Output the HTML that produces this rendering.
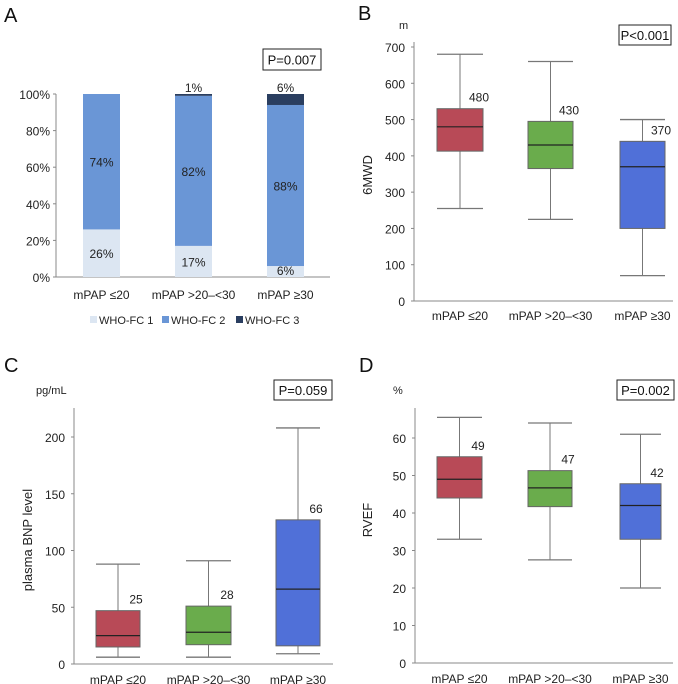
<!DOCTYPE html>
<html><head><meta charset="utf-8">
<style>
html,body{margin:0;padding:0;background:#fff;}
svg{display:block;font-family:"Liberation Sans",Arial,sans-serif;}
</style></head>
<body>
<svg id="fig" width="678" height="684" viewBox="0 0 678 684" xmlns="http://www.w3.org/2000/svg"></svg>
<script>
const NS='http://www.w3.org/2000/svg';
const svg=document.getElementById('fig');
function el(tag,attrs,parent,text){const e=document.createElementNS(NS,tag);for(const k in attrs)e.setAttribute(k,attrs[k]);if(text!==undefined)e.textContent=text;(parent||svg).appendChild(e);return e;}

const categories=['mPAP ≤20','mPAP >20–<30','mPAP ≥30'];
// Panel A data (percent)
const fc1=[26,17,6];
const fc2=[74,82,88];
const fc3=[0,1,6];
const aTicks=[0,20,40,60,80,100];
// Panel B (6MWD): [min, q1, median, q3, max]
const bMin=[255,225,70], bQ1=[413,365,200], bMed=[480,430,370], bQ3=[530,495,440], bMax=[680,660,500];
const bTicks=[0,100,200,300,400,500,600,700];
// Panel C (BNP)
const cMin=[6,6,9], cQ1=[15,17,16], cMed=[25,28,66], cQ3=[47,51,127], cMax=[88,91,208];
const cTicks=[0,50,100,150,200];
// Panel D (RVEF)
const dMin=[33,27.5,20], dQ1=[44,41.7,33], dMed=[49,46.7,42], dQ3=[55,51.3,47.8], dMax=[65.5,64,61];
const dTicks=[0,10,20,30,40,50,60];

const boxColors=['#b84a57','#6aac4c','#5070d8'];

function panelLetter(x,y,t){
  const e=el('text',{x:x,y:y,'font-size':20,fill:'#111'},svg,t);
  
  
}
function pBox(x,y,w,h,t,name){
  const g=el('g',{});
  
  
  el('rect',{x:x,y:y,width:w,height:h,fill:'#fff',stroke:'#222','stroke-width':1},g);
  el('text',{x:x+w/2,y:y+h/2+5,'text-anchor':'middle','font-size':13,fill:'#111'},g,t);
}

// ---------- Panel A ----------
panelLetter(4,22,'A');
pBox(263,49,58,21,'P=0.007','p-value-a');
(function(){
  const x0=56,yTop=94,yBot=277;
  const y=v=>yBot-(yTop-yBot)*-v/100;
  const g=el('g',{});
  
  
  el('line',{x1:x0,y1:yTop,x2:x0,y2:yBot,stroke:'#888'},g);
  el('line',{x1:x0,y1:yBot,x2:330,y2:yBot,stroke:'#888'},g);
  aTicks.forEach(t=>{
    const tx=el('text',{x:50,y:y(t)+5,'text-anchor':'end','font-size':12,fill:'#222'},g,t+'%');
    
    
    el('line',{x1:x0-3,y1:y(t),x2:x0,y2:y(t),stroke:'#888'},g);
  });
  const centers=[101.5,193.5,285.5], bw=37;
  categories.forEach((c,i)=>{
    const cx=centers[i];
    let base=0;
    const segs=[[fc1[i],'#dce6f2'],[fc2[i],'#6a96d6'],[fc3[i],'#2a3e60']];
    segs.forEach((s,j)=>{
      if(s[0]<=0){return;}
      const r=el('rect',{x:cx-bw/2,y:y(base+s[0]),width:bw,height:y(base)-y(base+s[0]),fill:s[1]},g);
      
      
      base+=s[0];
    });
    // labels
    const l1=el('text',{x:cx,y:y(fc1[i]/2)+5,'text-anchor':'middle','font-size':12,fill:'#222'},g,fc1[i]+'%');
    if(fc1[i]<10) l1.setAttribute('y',yBot-2);
    
    
    const l2=el('text',{x:cx,y:y(fc1[i]+fc2[i]/2)+5,'text-anchor':'middle','font-size':12,fill:'#222'},g,fc2[i]+'%');
    
    
    if(fc3[i]>0){
      const l3=el('text',{x:cx,y:yTop-2,'text-anchor':'middle','font-size':12,fill:'#222'},g,fc3[i]+'%');
      
      
    }
    const cl=el('text',{x:cx,y:299,'text-anchor':'middle','font-size':12,fill:'#222'},g,c);
    
    
  });
  const leg=[['WHO-FC 1','#dce6f2',90],['WHO-FC 2','#6a96d6',162],['WHO-FC 3','#2a3e60',236]];
  leg.forEach(l=>{
    const lg=el('g',{},g);
    
    
    el('rect',{x:l[2],y:316,width:7,height:7,fill:l[1]},lg);
    el('text',{x:l[2]+9,y:324,'font-size':11,fill:'#222'},lg,l[0]);
  });
})();

function boxPanel(o){
  const g=el('g',{});
  
  
  const y=v=>o.y0-(v-o.vmin)/(o.vmax-o.vmin)*(o.y0-o.yv);
  el('line',{x1:o.x0,y1:o.yTop,x2:o.x0,y2:o.y0,stroke:'#888'},g);
  el('line',{x1:o.x0,y1:o.y0,x2:o.xEnd,y2:o.y0,stroke:'#888'},g);
  o.ticks.forEach(t=>{
    el('line',{x1:o.x0-3,y1:y(t),x2:o.x0,y2:y(t),stroke:'#888'},g);
    const tx=el('text',{x:o.x0-9,y:y(t)+5,'text-anchor':'end','font-size':12,fill:'#222'},g,t);
    
    
  });
  const u=el('text',{x:o.unitX,y:o.unitY,'font-size':11,fill:'#222'},g,o.unit);
  
  
  const yt=el('text',{x:o.ytX,y:o.ytY,'text-anchor':'middle','font-size':13,fill:'#222',transform:'rotate(-90 '+o.ytX+' '+o.ytY+')'},g,o.ytitle);
  
  
  categories.forEach((c,i)=>{
    const l=o.lefts[i], r=o.rights[i], cx=(l+r)/2;
    const bg=el('g',{},g);
    
    
    el('line',{x1:cx,y1:y(o.max[i]),x2:cx,y2:y(o.min[i]),stroke:'#777'},bg);
    el('line',{x1:l,y1:y(o.max[i]),x2:r,y2:y(o.max[i]),stroke:'#777','stroke-width':1.3},bg);
    el('line',{x1:l,y1:y(o.min[i]),x2:r,y2:y(o.min[i]),stroke:'#777','stroke-width':1.3},bg);
    el('rect',{x:l,y:y(o.q3[i]),width:r-l,height:y(o.q1[i])-y(o.q3[i]),fill:boxColors[i],stroke:'#666'},bg);
    el('line',{x1:l,y1:y(o.med[i]),x2:r,y2:y(o.med[i]),stroke:'#222','stroke-width':1.2},bg);
    el('text',{x:r-4,y:y(o.q3[i])-7,'text-anchor':'middle','font-size':12,fill:'#222'},bg,o.medLabels[i]);
    const cl=el('text',{x:cx,y:o.catY,'text-anchor':'middle','font-size':12,fill:'#222'},g,c);
    
    
  });
}

// ---------- Panel B ----------
panelLetter(358,20,'B');
pBox(619,25,52,20,'P<0.001','p-value-b');
boxPanel({name:'chart-b',x0:414,xEnd:673,yTop:42,y0:301,yv:47,vmin:0,vmax:700,ticks:bTicks,
  lefts:[437,528,620],rights:[483,573,665],min:bMin,q1:bQ1,med:bMed,q3:bQ3,max:bMax,medLabels:bMed,
  unit:'m',unitX:399,unitY:29,ytitle:'6MWD',ytX:372,ytY:175,catY:320});

// ---------- Panel C ----------
panelLetter(4,372,'C');
pBox(274,380,58,20,'P=0.059','p-value-c');
boxPanel({name:'chart-c',x0:74,xEnd:333,yTop:408,y0:664,yv:437,vmin:0,vmax:200,ticks:cTicks,
  lefts:[96,186,276],rights:[140,231,320],min:cMin,q1:cQ1,med:cMed,q3:cQ3,max:cMax,medLabels:cMed,
  unit:'pg/mL',unitX:36,unitY:394,ytitle:'plasma BNP level',ytX:32,ytY:540,catY:684});

// ---------- Panel D ----------
panelLetter(359,372,'D');
pBox(617,380,57,20,'P=0.002','p-value-d');
boxPanel({name:'chart-d',x0:415,xEnd:673,yTop:408,y0:663,yv:438,vmin:0,vmax:60,ticks:dTicks,
  lefts:[437,528,620],rights:[482,572,661],min:dMin,q1:dQ1,med:dMed,q3:dQ3,max:dMax,medLabels:[49,47,42],
  unit:'%',unitX:393,unitY:394,ytitle:'RVEF',ytX:372,ytY:520,catY:683});
</script>
</body></html>
